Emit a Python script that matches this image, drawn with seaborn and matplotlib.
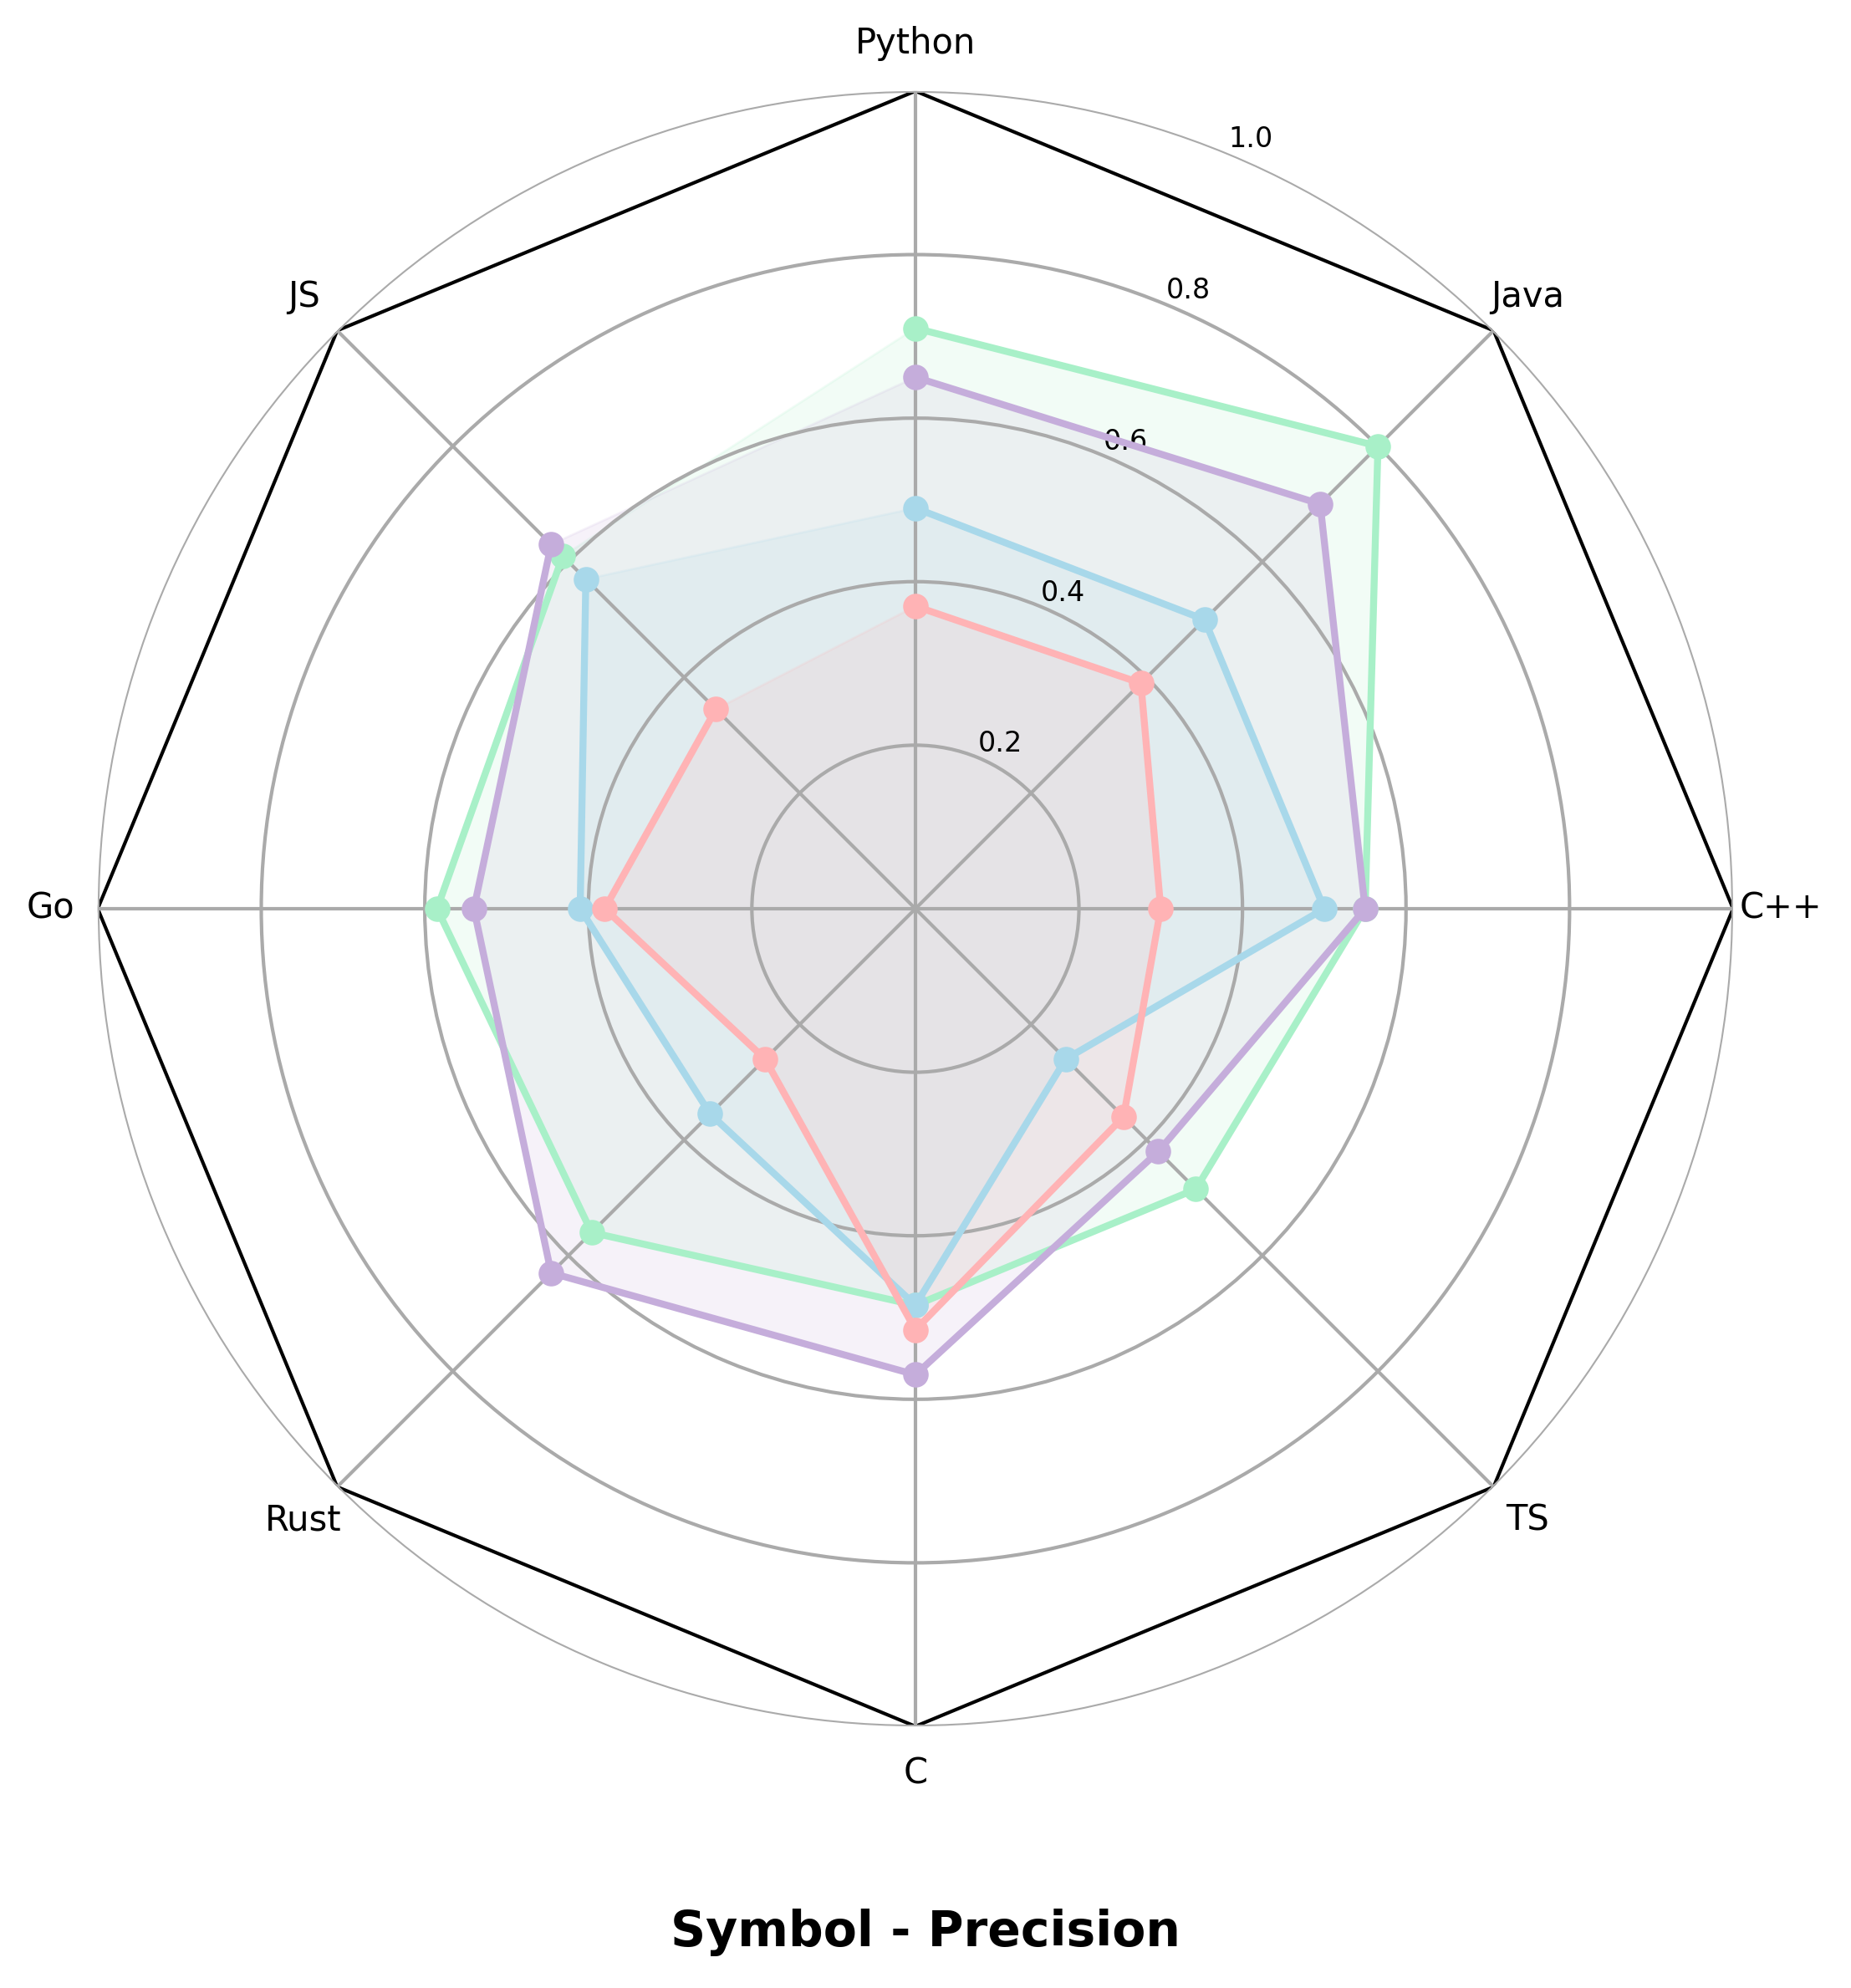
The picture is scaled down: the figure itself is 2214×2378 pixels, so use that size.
import numpy as np
import seaborn as sns
import matplotlib.pyplot as plt

labels = ['Python', 'Java', 'C++', 'TS', 'C', 'Rust', 'Go', 'JS']
green = [0.71, 0.80, 0.55, 0.485, 0.485, 0.56, 0.585, 0.61]
purple = [0.65, 0.70, 0.55, 0.42, 0.57, 0.63, 0.54, 0.63]
blue = [0.49, 0.50, 0.50, 0.26, 0.485, 0.355, 0.41, 0.57]
pink = [0.37, 0.39, 0.30, 0.36, 0.515, 0.26, 0.38, 0.345]
r_ticks = [0.2, 0.4, 0.6, 0.8, 1.0]

series = [green, purple, blue, pink]
colors = ['#a8f0c8', '#c5addb', '#a8d8ea', '#ffb3b5']

sns.set_style('white', {'text.color': 'black', 'xtick.color': 'black',
                        'ytick.color': 'black', 'axes.labelcolor': 'black'})
plt.rcParams['font.family'] = ['DejaVu Sans']

angles = np.linspace(0, 2 * np.pi, len(labels), endpoint=False)
angles_closed = np.concatenate([angles, angles[:1]])

fig = plt.figure(figsize=(11.07, 11.89), dpi=200)
ax = fig.add_axes([0.0528, 0.1316, 0.8835, 0.8226], projection='polar')
ax.set_theta_offset(np.pi / 2)
ax.set_theta_direction(-1)
ax.set_axisbelow(False)

# octagon frame
ax.plot(angles_closed, np.ones(len(angles_closed)), color='black', lw=1.5, zorder=2)

for vals, c in zip(series, colors):
    v = np.concatenate([vals, vals[:1]])
    ax.fill(angles_closed, v, color=c, alpha=0.15, zorder=2)
    sns.lineplot(x=angles_closed, y=v, sort=False, ax=ax, color=c, lw=3,
                 marker='o', markersize=11, markeredgewidth=0, zorder=4)

ax.set_ylim(0, 1)
ax.set_yticks(r_ticks)
ax.set_yticklabels([f'{t:.1f}' for t in r_ticks], fontsize=12, color='black')
ax.set_xticks(angles)
ax.set_xticklabels(labels, fontsize=15, color='black')
ax.tick_params(axis='x', pad=10)
ax.grid(True, color='#aaaaaa', lw=1.5)
ax.spines['polar'].set_visible(False)
ax.set_xlabel('')
ax.set_ylabel('')

fig.text(0.5, 0.021, 'Symbol - Precision', ha='center', va='baseline',
         fontsize=21, fontweight='bold', color='black')

fig.savefig('out.png', dpi=200)
